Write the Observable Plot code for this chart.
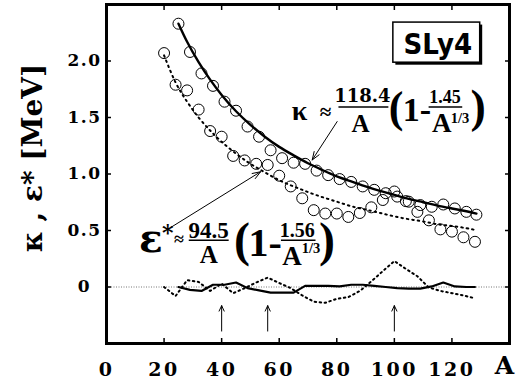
<!DOCTYPE html>
<html><head><meta charset="utf-8">
<script src="https://cdn.jsdelivr.net/npm/d3@7"></script>
<script src="https://cdn.jsdelivr.net/npm/@observablehq/plot@0.6"></script>
<style>
body{margin:0;background:#fff;}
#chart svg{display:block;}
g[aria-label="y-axis tick label"] text{letter-spacing:1.5px;}
g[aria-label="x-axis tick label"] text{letter-spacing:2.5px;}
</style></head><body><div id="chart"></div>
<script>
// ---- data ----
// kappa (circles, upper set)
const kappaA = [25, 29, 33, 37, 41, 45, 49, 53, 57, 61, 65, 69, 73, 77, 81, 85, 89, 93, 97, 101, 105, 109, 113, 117, 121, 125, 128.5];
const kappaV = [2.33, 2.08, 1.89, 1.78, 1.64, 1.56, 1.42, 1.33, 1.21, 1.14, 1.10, 1.09, 1.03, 0.99, 0.955, 0.93, 0.89, 0.86, 0.83, 0.80, 0.755, 0.725, 0.71, 0.73, 0.695, 0.665, 0.64];
// epsilon* (circles, lower set)
const epsA = [20, 24, 28, 32, 36, 40, 44, 48, 52, 56, 60, 64, 68, 72, 76, 80, 84, 88, 92, 96, 100, 104, 108, 112, 116, 120, 124, 128];
const epsV = [2.07, 1.79, 1.74, 1.57, 1.38, 1.33, 1.16, 1.12, 1.09, 1.08, 0.985, 0.89, 0.785, 0.68, 0.65, 0.65, 0.62, 0.655, 0.705, 0.77, 0.845, 0.76, 0.665, 0.59, 0.51, 0.49, 0.44, 0.40];
// fitted curves
const kappaFitA = [25, 28, 32, 36, 40, 45, 50, 55, 60, 65, 70, 75, 80, 85, 90, 95, 100, 105, 110, 115, 120, 125, 128.5];
const kappaFitV = [2.33, 2.17, 1.99, 1.835, 1.70, 1.555, 1.435, 1.33, 1.24, 1.165, 1.095, 1.035, 0.98, 0.935, 0.89, 0.85, 0.815, 0.78, 0.75, 0.72, 0.695, 0.67, 0.65];
const epsFitA = [20, 24, 28, 32, 36, 40, 45, 50, 55, 60, 65, 70, 75, 80, 85, 90, 95, 100, 105, 110, 115, 120, 125, 128];
const epsFitV = [2.05, 1.81, 1.64, 1.50, 1.385, 1.285, 1.18, 1.09, 1.015, 0.945, 0.89, 0.84, 0.795, 0.755, 0.715, 0.685, 0.655, 0.625, 0.60, 0.58, 0.555, 0.54, 0.52, 0.505];
// residuals (bottom part)
const kappaResA = [25, 29, 33, 37, 41, 45, 49, 53, 57, 61, 65, 69, 73, 77, 81, 85, 89, 93, 97, 101, 105, 109, 113, 117, 121, 125, 128];
const kappaRes = [0.0, -0.025, -0.035, 0.02, 0.02, 0.04, -0.01, -0.03, -0.05, -0.05, -0.05, 0.01, 0.01, 0.01, 0.005, 0.02, 0.02, 0.01, 0.0, -0.01, -0.015, -0.015, 0.005, 0.04, 0.005, 0.0, 0.0];
const epsResA = [20, 24, 28, 32, 36, 40, 44, 48, 52, 56, 60, 64, 68, 72, 76, 80, 84, 88, 92, 96, 100, 104, 108, 112, 116, 120, 124, 128];
const epsRes = [0.0, -0.08, 0.06, 0.045, -0.035, 0.03, -0.055, -0.01, 0.04, 0.083, 0.035, -0.01, -0.075, -0.13, -0.14, -0.105, -0.09, -0.035, 0.05, 0.14, 0.23, 0.16, 0.095, -0.005, -0.035, -0.055, -0.075, -0.10];
// marked nuclei (arrows)
const arrowA = [40, 56, 100];
// ticks
const xTicks = [0, 20, 40, 60, 80, 100, 120];
const xTickLabels = ["0", "20", "40", "60", "80", "100", "120"];
const yTicks = [0, 0.5, 1, 1.5, 2];
const yTickLabels = ["0", "0.5", "1.0", "1.5", "2.0"];

const rows = (xs, ys) => xs.map((A, i) => ({A, v: ys[i]}));
const kappaPts = rows(kappaA, kappaV), epsPts = rows(epsA, epsV);
const kappaFit = rows(kappaFitA, kappaFitV), epsFit = rows(epsFitA, epsFitV);
const kappaR = rows(kappaResA, kappaRes), epsR = rows(epsResA, epsRes);

const DS = "DejaVu Serif", LS = "Liberation Serif";
function t(s, x, y, size, font = LS, anchor = "middle") {
  return Plot.text([s], {x, y, text: d => d, fontSize: size, fontFamily: font, fontWeight: "bold", textAnchor: anchor, lineAnchor: "middle", fill: "black"});
}
function bar(x1, x2, y) {
  return Plot.link([0], {x1, x2, y1: y, y2: y, stroke: "black", strokeWidth: 1.5});
}

const plot = Plot.plot({
  width: 518, height: 380,
  marginLeft: 106, marginRight: 9, marginTop: 4, marginBottom: 37,
  x: {domain: [0, 140]},
  y: {domain: [-0.5, 2.5]},
  style: {background: "white", fontFamily: DS},
  marks: [
    Plot.ruleY([0], {stroke: "#777", strokeWidth: 1, strokeDasharray: "1,1.5"}),
    Plot.line(epsFit, {x: "A", y: "v", stroke: "black", strokeWidth: 2, strokeDasharray: "1.5,4", curve: "natural"}),
    Plot.line(kappaFit, {x: "A", y: "v", stroke: "black", strokeWidth: 2.4, curve: "natural"}),
    Plot.dot(kappaPts, {x: "A", y: "v", r: 5.5, stroke: "black", strokeWidth: 1, fill: "none"}),
    Plot.dot(epsPts, {x: "A", y: "v", r: 5.5, stroke: "black", strokeWidth: 1, fill: "none"}),
    Plot.line(epsR, {x: "A", y: "v", stroke: "black", strokeWidth: 2, strokeDasharray: "1.5,3.5"}),
    Plot.line(kappaR, {x: "A", y: "v", stroke: "black", strokeWidth: 2.2}),
    Plot.arrow(arrowA, {x1: d => d, x2: d => d, y1: -0.39, y2: -0.165, stroke: "black", strokeWidth: 1, headLength: 9, headAngle: 50}),
    // annotation arrows
    Plot.arrow([0], {x1: 80.13, y1: 1.464, x2: 71.46, y2: 1.124, stroke: "black", strokeWidth: 1, headLength: 13, headAngle: 40}),
    Plot.arrow([0], {x1: 22.33, y1: 0.527, x2: 53.54, y2: 1.020, stroke: "black", strokeWidth: 1, headLength: 13, headAngle: 40}),
    // kappa formula
    t("κ", 67.06, 1.5555, 28),
    t("≈", 76.07, 1.550, 21),
    t("118.4", 88.9, 1.684, 18, DS),
    bar(80.58, 97.92, 1.592),
    t("A", 88.21, 1.444, 25),
    t("(", 100.6, 1.589, 44),
    t("1-", 102.9, 1.566, 34, LS, "start"),
    t("1.45", 117.6, 1.681, 18),
    bar(111.9, 123.58, 1.592),
    t("A", 116.5, 1.449, 27),
    t("1/3", 119.6, 1.493, 14.5, LS, "start"),
    t(")", 129.13, 1.589, 46),
    // epsilon formula
    t("ε", 15.40, 0.419, 39, DS),
    t("*", 21.3, 0.480, 22, DS),
    t("≈", 25.2, 0.427, 18),
    t("94.5", 35.51, 0.498, 23),
    bar(28.57, 42.44, 0.414),
    t("A", 35.51, 0.281, 25),
    t("(", 47.1, 0.409, 48),
    t("1-", 49.3, 0.385, 40, LS, "start"),
    t("1.56", 66.3, 0.498, 20),
    bar(60.6, 72.61, 0.414),
    t("A", 64.4, 0.269, 27),
    t("1/3", 67.85, 0.340, 14.5, LS, "start"),
    t(")", 76.59, 0.414, 48),
    // SLy4 box
    Plot.rect([0], {x1: 99.65, x2: 129.82, y1: 1.985, y2: 2.34, fill: "black", dx: 2.5, dy: 2.5}),
    Plot.rect([0], {x1: 99.65, x2: 129.82, y1: 1.985, y2: 2.34, fill: "white", stroke: "black", strokeWidth: 1.5}),
    Plot.text(["SLy4"], {x: 115.08, y: 2.141, text: d => d, fontSize: 29, fontFamily: "DejaVu Sans Condensed, DejaVu Sans", fontWeight: "bold"}),
    // axes
    Plot.axisX(xTicks, {anchor: "bottom", tickSize: 0, tickPadding: 19, tickFormat: d => xTickLabels[xTicks.indexOf(d)], fontSize: 19, fontWeight: "bold", fontFamily: DS, label: null}),
    Plot.axisX(xTicks.slice(1), {anchor: "bottom", tickSize: -5, tickFormat: () => "", strokeWidth: 1.5, label: null}),
    Plot.axisX(xTicks.slice(1), {anchor: "top", tickSize: -5, tickFormat: () => "", strokeWidth: 1.5, label: null}),
    Plot.axisY(yTicks, {anchor: "left", tickSize: 0, tickPadding: 22, textAnchor: "middle", tickFormat: d => yTickLabels[yTicks.indexOf(d)], fontSize: 17, fontWeight: "bold", fontFamily: DS, label: null}),
    Plot.axisY(yTicks, {anchor: "left", tickSize: -5, tickFormat: () => "", strokeWidth: 1.5, label: null}),
    Plot.axisY(yTicks, {anchor: "right", tickSize: -5, tickFormat: () => "", strokeWidth: 1.5, label: null}),
    Plot.text(["κ , ε* [MeV]"], {frameAnchor: "left", dx: -73, dy: -16, rotate: -90, textAnchor: "middle", lineAnchor: "middle", text: d => d, fontSize: 28, fontFamily: DS, fontWeight: "bold"}),
    Plot.text(["A"], {frameAnchor: "bottom-right", dx: -5, dy: 22.5, textAnchor: "middle", lineAnchor: "middle", text: d => d, fontSize: 25, fontFamily: DS, fontWeight: "bold"}),
    Plot.frame({stroke: "black", strokeWidth: 3})
  ]
});
document.getElementById("chart").appendChild(plot);
</script></body></html>
